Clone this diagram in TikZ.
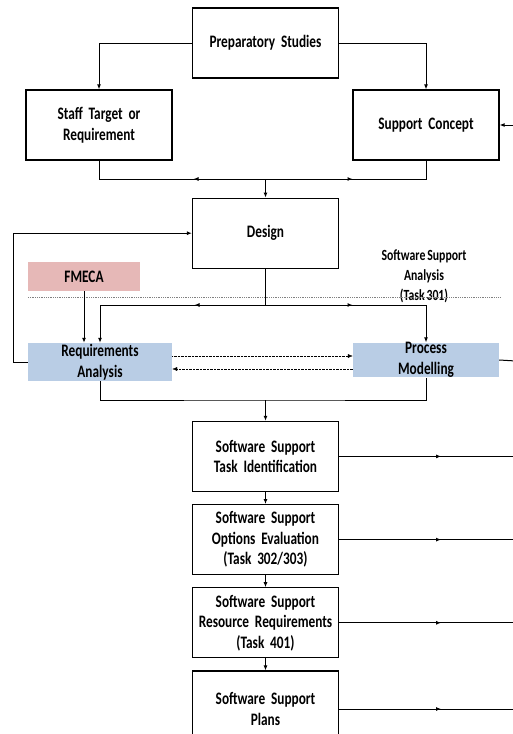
\documentclass[tikz,border=0pt]{standalone}
\usepackage{fontspec}
\setmainfont{Carlito}[FakeStretch=0.76, WordSpace=0.7]
\usetikzlibrary{arrows.meta,positioning,decorations.markings}
\definecolor{fmecared}{HTML}{E6B8B7}
\definecolor{ssablue}{HTML}{B9CDE5}

\begin{document}
\begin{tikzpicture}
[x=1pt, y=-1pt, >={Latex[length=5pt,width=4pt]},
% STYLES
% The task style is used for the boxes of the main flow
task/.style={rectangle, draw, line width=1.2pt, minimum width=146pt, minimum height=70pt, inner sep=0pt, text width=144pt, align=center, font=\bfseries\fontsize{17.5}{20.5}\selectfont},
% The stage style is used for the shaded boxes of the analysis
stage/.style={rectangle, inner sep=0pt, align=center, font=\bfseries\fontsize{17.5}{20.5}\selectfont},
link/.style={line width=1pt},
% arrowhead put part way along a link
midarrow/.style={postaction={decorate}, decoration={markings, mark=at position #1 with {\arrow{>}}}}]

\useasboundingbox (0,0) rectangle (513,734);

% Draw the boxes
\node [task] (prep) at (265.5,43) {Preparatory Studies};
\node [task] (staff) at (99,125) {Staff Target or\\Requirement};
\node [task] (support) at (426,125) {Support Concept};
\node [task, below=119pt of prep] (design) {Design};

%%%%%%%%%%%%%%%
% Analysis stage
\node [stage, fill=fmecared, minimum width=112pt, minimum height=29pt] (fmeca) at (84,276.5) {FMECA};
\node [stage, fill=ssablue, minimum width=144pt, minimum height=38pt] (req) at (100,362) {Requirements\\Analysis};
\node [stage, fill=ssablue, minimum width=146pt, minimum height=34pt] (process) at (426,360) {Process\\Modelling};
\node [align=center, font=\bfseries\fontsize{15.5}{20}\selectfont] (ssa) at (424,276) {Software Support\\Analysis\\(Task 301)};
\draw [densely dotted, gray, line width=0.8pt] (28,297) -- (501,297);

% Software support tasks
\node [task, below=152pt of design] (taskid) {Software Support\\Task Identification};
\node [task, below=12pt of taskid] (options) {Software Support\\Options Evaluation\\(Task 302/303)};
\node [task, below=12pt of options] (resource) {Software Support\\Resource Requirements\\(Task 401)};
\node [task, below=12pt of resource, minimum height=76pt] (plans) {Software Support\\Plans};
%%%%%%%%%%%%%%%

\coordinate (merge) at (265.5,179);
\coordinate (split) at (265.5,305);
\coordinate (join) at (265.5,400);
\coordinate (inSC) at (516,125);
\coordinate (outPM) at (516,361);
\coordinate (outR) at (516,0);

% Draw the links between boxes
\draw [link,->] (prep.west) -| (staff.north);
\draw [link,->] (prep.east) -| (support.north);
\draw [link,->] (inSC) -- (support.east);
\draw [link, midarrow=72pt] (merge) -| (staff.south);
\draw [link, midarrow=87pt] (merge) -| (support.south);
\draw [link,->] (merge) -- (design.north);
\draw [link,->] (req.west) -- ++(-14,0) |- (design.west);
\draw [link] (design.south) -- (split);
\draw [link,->, midarrow=71pt] (split) -| (req.north);
\draw [link,->, midarrow=87pt] (split) -| (process.north);
\draw [link,->] (fmeca.south) -- (fmeca.south |- req.north);
\draw [densely dotted,->] ([yshift=6pt]req.east) -- ([yshift=6pt]req.east -| process.west);
\draw [densely dotted,->] ([yshift=-7pt]req.east -| process.west) -- ([yshift=-7pt]req.east);
\draw [link] (process.east) -- (outPM);
\draw [link] (req.south) |- (join) -| (process.south);
\draw [link,->] (join) -- (taskid.north);
\draw [link,->] (taskid) -- (options);
\draw [link,->] (options) -- (resource);
\draw [link,->] (resource) -- (plans);
\foreach \n in {taskid,options,resource,plans}
  \draw [link, midarrow=102pt] (\n.east) -- (\n.east -| outR);

\end{tikzpicture}
\end{document}
